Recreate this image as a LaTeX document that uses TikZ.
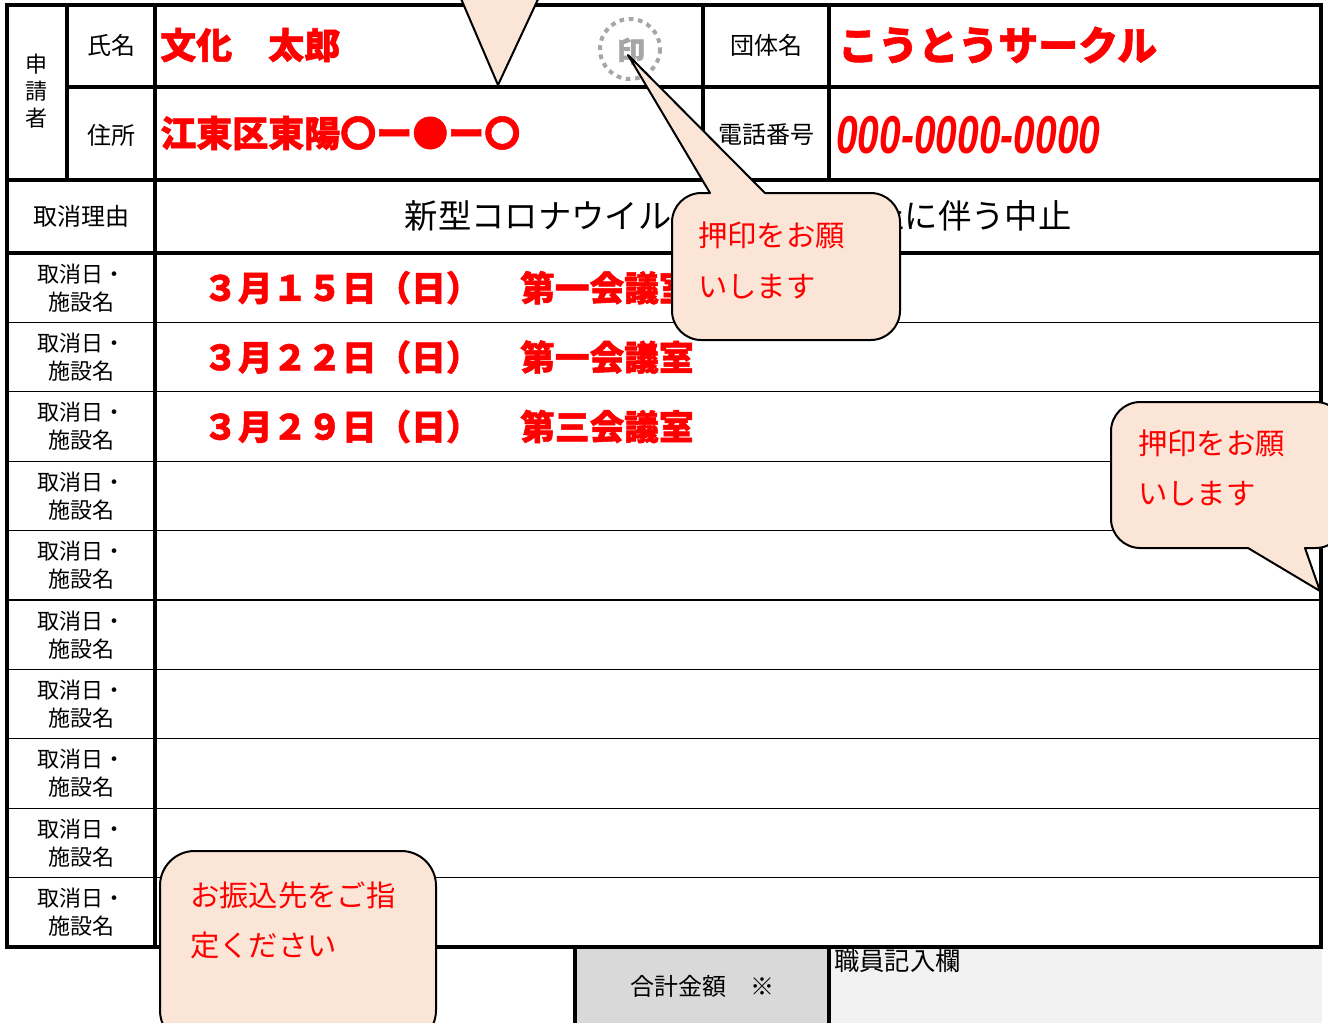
\documentclass[tikz,border=0pt]{standalone}
\usepackage{fontspec}
\setmainfont{Noto Sans CJK JP}
\newfontfamily\popfont{Noto Sans CJK JP}[FakeBold=1.5]
\newfontfamily\numfont{Liberation Sans}
\definecolor{peach}{HTML}{FBE5D6}
\definecolor{stampgray}{HTML}{A6A6A6}
\definecolor{sumgray}{HTML}{D9D9D9}
\definecolor{staffgray}{HTML}{F2F2F2}

\begin{document}
\begin{tikzpicture}
  [x=0.75pt,y=-0.75pt,every node/.style={inner sep=0pt},
   rulethick/.style={line width=3pt},
   rulethin/.style={line width=1pt},
   headtxt/.style={font=\fontsize{18}{20}\selectfont,align=center},
   rowtxt/.style={font=\fontsize{16.5}{21}\selectfont,align=center},
   poptxt/.style={font=\popfont\bfseries\fontsize{27}{30}\selectfont,text=red,anchor=west},
   datetxt/.style={font=\popfont\bfseries\fontsize{26}{30}\selectfont,text=red,anchor=west},
   calltxt/.style={font=\fontsize{22}{24}\selectfont,text=red,anchor=west},
   callout/.style={draw=black,fill=peach,line width=1.5pt,line join=round}]
  \useasboundingbox (0,0) rectangle (1328,1022);

  % bottom boxes
  \fill[sumgray] (575,947) rectangle (829,1030);
  \fill[staffgray] (829,947) rectangle (1322,1030);
  \draw[rulethick] (575,947) -- (575,1030) (829,947) -- (829,1030);

  % table
  \foreach \i in {1,...,9}
    \draw[rulethin] (7,253+69.4*\i) -- (1321,253+69.4*\i);
  \draw[rulethick] (7,5) rectangle (1321,947);
  \draw[rulethick] (67,5) -- (67,180) (155,5) -- (155,947)
    (703,5) -- (703,180) (829,5) -- (829,180)
    (67,87) -- (1321,87) (7,180) -- (1321,180) (7,253) -- (1321,253);

  % headings
  \node[font=\fontsize{16.5}{20}\selectfont,align=center] (applicant) at (37,91) {申\\請\\者};
  \node[headtxt] (namelbl) at (111,45) {氏名};
  \node[headtxt] (addrlbl) at (111,135) {住所};
  \node[headtxt] (grouplbl) at (766,45) {団体名};
  \node[headtxt] (tellbl) at (766,135) {電話番号};
  \node[headtxt] (reasonlbl) at (81,216) {取消理由};
  \foreach \i in {0,...,9}
    \node[rowtxt] (rowlbl\i) at (81,253+69.4*\i+34.7) {取消日・\\施設名};

  % entries
  \node[poptxt] (name) at (160,45) {文化　太郎};
  \node[poptxt] (addr) at (160,133) {江東区東陽〇ー●ー〇};
  \node[poptxt,font=\popfont\bfseries\fontsize{30}{32}\selectfont] (group) at (838,45) {こうとうサークル};
  \node[anchor=west,text=red,font=\numfont\bfseries\itshape\fontsize{40}{42}\selectfont]
    (tel) at (836,135) {\scalebox{0.73}[1]{000-0000-0000}};
  \node[font=\fontsize{25}{28}\selectfont] (reason) at (738,216) {新型コロナウイルス感染拡大防止に伴う中止};
  \foreach \d/\r [count=\i from 0] in {３月１５日（日）/第一会議室,３月２２日（日）/第一会議室,３月２９日（日）/第三会議室}{
    \node[datetxt] (date\i) at (203,253+69.4*\i+34.7) {\d};
    \node[datetxt] (room\i) at (520,253+69.4*\i+34.7) {\r};
  }
  \node[font=\fontsize{18}{20}\selectfont] (sumlbl) at (702,986) {合計金額　※};
  \node[anchor=north west,font=\fontsize{19}{20}\selectfont] (staff) at (834,949) {職員記入欄};

  % seal
  \draw[stampgray,line width=3pt,dash pattern=on 3.5pt off 3.5pt] (630,49) circle [radius=30];
  \node[text=stampgray,font=\popfont\bfseries\fontsize{21}{22}\selectfont] (seal) at (631,51) {印};

  % callouts
  \filldraw[callout] (453,-20) -- (498,85) -- (547,-20) -- cycle;
  \filldraw[callout] (672,266) [rounded corners=22] -- (672,193) [sharp corners] -- (710,193)
    -- (628,55) -- (765,193) [rounded corners=22] -- (900,193) -- (900,340) -- (672,340) -- cycle;
  \filldraw[callout] (1111,475) [rounded corners=22] -- (1111,402) -- (1345,402) -- (1345,548)
    [sharp corners] -- (1305,548) -- (1320,591) -- (1248,548) [rounded corners=22] -- (1111,548) -- cycle;
  \filldraw[callout,rounded corners=26] (160,851) rectangle (436,1045);
  \node[calltxt] (seal1a) at (698,235) {押印をお願};
  \node[calltxt] (seal1b) at (698,287) {いします};
  \node[calltxt] (seal2a) at (1138,443) {押印をお願};
  \node[calltxt] (seal2b) at (1138,494) {いします};
  \node[calltxt] (bank1) at (190,895) {お振込先をご指};
  \node[calltxt] (bank2) at (190,945) {定ください};
\end{tikzpicture}
\end{document}
